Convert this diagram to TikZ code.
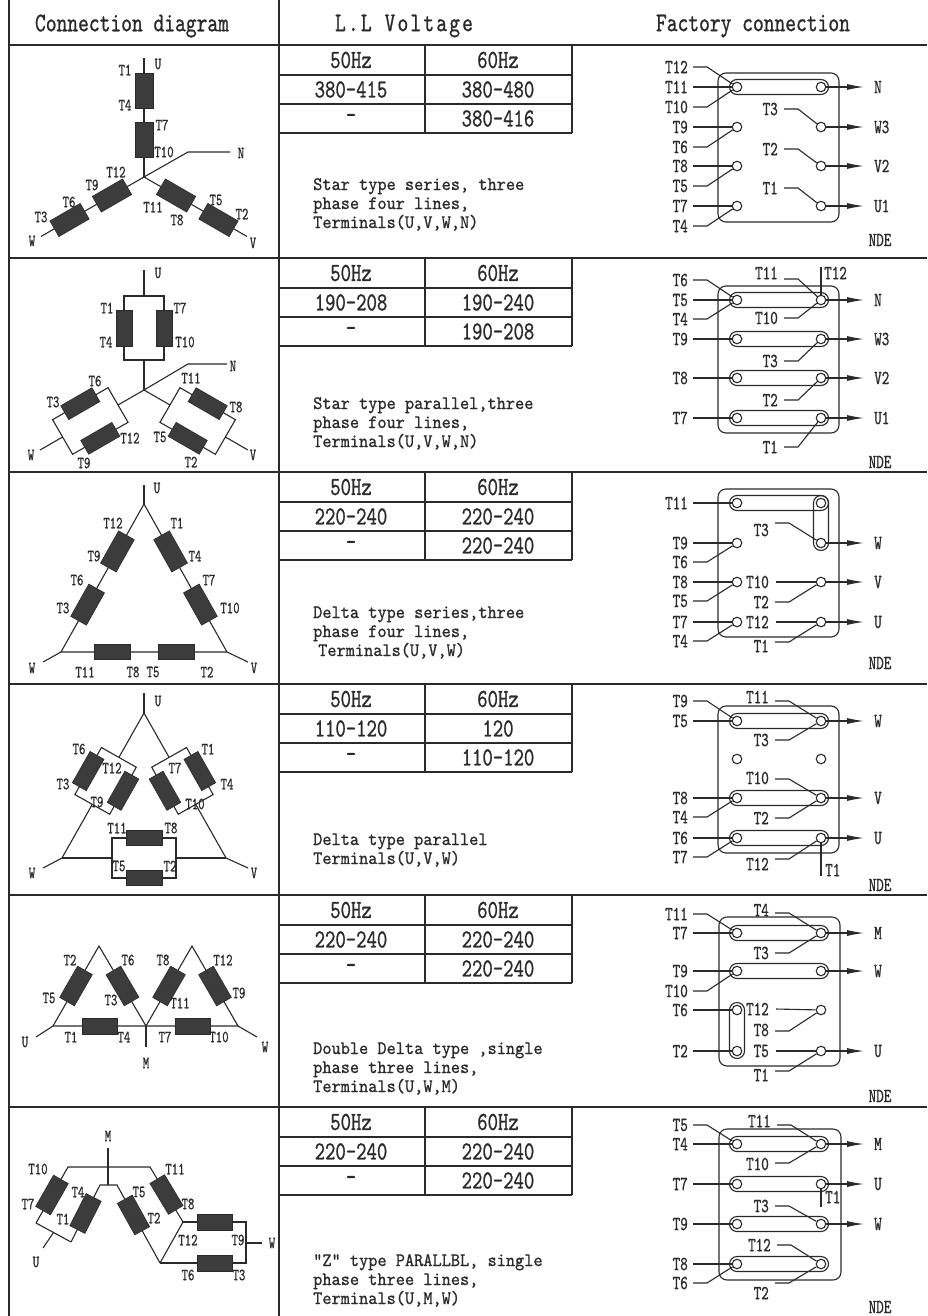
\documentclass[tikz,border=0pt]{standalone}
\usepackage{fontspec}
\usetikzlibrary{arrows.meta}
\newfontfamily\tfont{lmmono10-regular.otf}[FakeStretch=0.72,FakeBold=0.8]
\newfontfamily\tfontw{lmmono10-regular.otf}[FakeStretch=0.92,FakeBold=0.8]
\newfontfamily\tfonth{lmmono10-regular.otf}[FakeStretch=0.76,FakeBold=0.8]
\newfontfamily\tfonthl{lmmono10-regular.otf}[FakeStretch=0.76,FakeBold=0.8,LetterSpace=8]
\newcommand\hfont{\tfonth\fontsize{27}{27}\selectfont}
\newcommand\hlfont{\tfonthl\fontsize{27}{27}\selectfont}
\newcommand\sfontx{\tfonth\fontsize{26}{26}\selectfont}
\newcommand\descfont{\tfontw\fontsize{19}{19}\selectfont}
\newcommand\dlabfont{\tfont\fontsize{17}{17}\selectfont}
\newcommand\rlabfont{\tfont\fontsize{20}{20}\selectfont}
\definecolor{ink}{HTML}{2A2A2A}
\definecolor{coilc}{HTML}{3C3C3C}
\newcounter{lb}
\tikzset{
 tab/.style={draw=ink, line width=1.4pt},
 wire/.style={draw=ink, line width=1.1pt},
 coilA/.style={draw=ink, fill=coilc, line width=0.6pt, inner sep=0pt, minimum width=35pt, minimum height=18pt},
 coilB/.style={coilA, minimum width=36pt, minimum height=16pt},
 coilC/.style={coilA, minimum width=36pt, minimum height=15pt},
 coilD/.style={coilA, minimum width=37pt, minimum height=18pt},
 coilE/.style={coilA, minimum width=36pt, minimum height=17pt},
 dlab/.style={font=\dlabfont, text=ink, inner sep=0pt},
 rlab/.style={font=\rlabfont, text=ink, inner sep=0pt},
 term/.style={circle, draw=ink, fill=white, line width=1.1pt, minimum size=9.5pt, inner sep=0pt},
 lnk/.style={draw=ink, line width=1.1pt, rounded corners=7.5pt},
 bx/.style={draw=ink, line width=1.1pt, rounded corners=8pt},
 htxt/.style={font=\hfont, text=ink, inner sep=0pt},
 stxt/.style={font=\sfontx, text=ink, inner sep=0pt},
 dtxt/.style={font=\descfont, text=ink, inner sep=0pt, anchor=base west},
}
\newcommand\dl[3]{\stepcounter{lb}\node[dlab] (dl\arabic{lb}) at (#1,#2) {#3};}
\newcommand\dline[3]{\stepcounter{lb}\node[dtxt] (ds\arabic{lb}) at (#1,#2) {#3};}
\newcommand\subt[4]{%
 \node[stxt] (s50-#1) at (351,#1+15) {50Hz}; \node[stxt] (s60-#1) at (498,#1+15) {60Hz};
 \node[stxt] (sa-#1) at (351,#1+44.5) {#2}; \node[stxt] (sb-#1) at (498,#1+44.5) {#3};
 \node[stxt] (sc-#1) at (351,#1+73.5) {-}; \node[stxt] (sd-#1) at (498,#1+73.5) {#4};}
\newcommand\terms[2]{\node[term] (#1l) at (737,#2) {}; \node[term] (#1r) at (821,#2) {};}
\newcommand\hlink[1]{\draw[lnk] (729.5,#1-7.5) rectangle (828.5,#1+7.5);}
\newcommand\LS[3]{\stepcounter{lb}\node[rlab,anchor=east] (rl\arabic{lb}) at (688,#3) {#2}; \draw[wire] (693,#3) -- (#1);}
\newcommand\LA[3]{\stepcounter{lb}\node[rlab,anchor=east] (rl\arabic{lb}) at (688,#3) {#2}; \draw[wire] (693,#3) -- (707,#3) -- (#1);}
\newcommand\RS[4]{\stepcounter{lb}\node[rlab,anchor=east] (rl\arabic{lb}) at (#4,#3) {#2}; \draw[wire] (#4+7,#3) -- (#1);}
\newcommand\RA[5]{\stepcounter{lb}\node[rlab,anchor=east] (rl\arabic{lb}) at (#4,#3) {#2}; \draw[wire] (#4+6,#5) -- (#4+20,#5) -- (#1);}
\newcommand\AR[3]{\stepcounter{lb}\draw[wire,-{Latex[length=17pt,width=6pt]}] (#1) -- (864,#3); \node[rlab,anchor=west] (ar\arabic{lb}) at (874,#3) {#2};}
\newcommand\NDE[1]{\stepcounter{lb}\node[rlab] (nde\arabic{lb}) at (880,#1) {NDE};}
\begin{document}
\begin{tikzpicture}[x=1pt,y=-1pt]
\useasboundingbox (0,0) rectangle (927,1316);
\fill[white] (0,0) rectangle (927,1316);
% ---------- table ----------
\draw[tab] (9,0) -- (9,1316);
\draw[tab] (279,0) -- (279,1316);
\foreach \y in {45,258,472,684,895,1107} {
 \draw[tab] (9,\y) -- (927,\y);
 \draw[tab] (279,\y+30) -- (572,\y+30) (279,\y+59) -- (572,\y+59) (279,\y+88) -- (572,\y+88);
 \draw[tab] (425,\y) -- (425,\y+88) (572,\y) -- (572,\y+88);
}
\node[htxt] (h1) at (132,26) {Connection diagram};
\node[htxt, font=\hlfont] (h2) at (404,26) {L.L Voltage};
\node[htxt] (h3) at (753,26) {Factory connection};
% ---------- voltage tables ----------
\subt{45}{380-415}{380-480}{380-416}
\subt{258}{190-208}{190-240}{190-208}
\subt{472}{220-240}{220-240}{220-240}
\subt{684}{110-120}{120}{110-120}
\subt{895}{220-240}{220-240}{220-240}
\subt{1107}{220-240}{220-240}{220-240}
% ---------- descriptions ----------
\dline{313}{190}{Star type series, three}
\dline{313}{209}{phase four lines,}
\dline{313}{228}{Terminals(U,V,W,N)}
\dline{313}{409}{Star type parallel,three}
\dline{313}{428}{phase four lines,}
\dline{313}{447}{Terminals(U,V,W,N)}
\dline{313}{618}{Delta type series,three}
\dline{313}{637}{phase four lines,}
\dline{318}{656}{Terminals(U,V,W)}
\dline{313}{845}{Delta type parallel}
\dline{313}{864}{Terminals(U,V,W)}
\dline{313}{1054}{Double Delta type ,single}
\dline{313}{1073}{phase three lines,}
\dline{313}{1092}{Terminals(U,W,M)}
\dline{313}{1266}{“Z” type PARALLBL, single}
\dline{313}{1285}{phase three lines,}
\dline{313}{1304}{Terminals(U,M,W)}
% ---------- row 1: star series ----------
\coordinate (c1) at (144,177);
\begin{scope}[shift={(144,177)}]
 \foreach \a in {270,150,30} {
  \begin{scope}[rotate=-\a]
   \draw[wire] (0,0) -- (119,0);
   \node[coilA, transform shape] (k1a\a) at (37,0) {};
   \node[coilA, transform shape] (k1b\a) at (86,0) {};
  \end{scope}}
\end{scope}
\draw[wire] (c1) -- (188,152) -- (230,152);
\dl{158}{64}{U}\dl{125}{70}{T1}\dl{125}{105}{T4}\dl{162}{125}{T7}\dl{164}{152}{T10}
\dl{241}{153}{N}\dl{116}{172}{T12}\dl{92}{185}{T9}\dl{69}{202}{T6}\dl{41}{217}{T3}\dl{32}{241}{W}
\dl{153}{207}{T11}\dl{177}{220}{T8}\dl{216}{200}{T5}\dl{242}{214}{T2}\dl{253}{243}{V}
% ---------- row 2: star parallel ----------
\coordinate (c2) at (144,390);
\begin{scope}[shift={(144,390)}]
 \foreach \a in {270,150,30} {
  \begin{scope}[rotate=-\a]
   \draw[wire] (0,0) -- (30,0) (94,0) -- (120,0);
   \draw[wire] (30,-20) rectangle (94,20);
   \node[coilB, transform shape] (k2a\a) at (62,-20) {};
   \node[coilB, transform shape] (k2b\a) at (62,20) {};
  \end{scope}}
\end{scope}
\draw[wire] (c2) -- (188,364) -- (227,364);
\dl{158}{273}{U}\dl{107}{308}{T1}\dl{106}{342}{T4}\dl{180}{308}{T7}\dl{185}{342}{T10}
\dl{233}{366}{N}\dl{95}{381}{T6}\dl{53}{402}{T3}\dl{130}{438}{T12}\dl{84}{463}{T9}\dl{31}{455}{W}
\dl{191}{378}{T11}\dl{236}{407}{T8}\dl{160}{437}{T5}\dl{191}{462}{T2}\dl{253}{455}{V}
% ---------- row 3: delta series ----------
\draw[wire] (144,485) -- (144,504);
\draw[wire] (144,504) -- (61,652) -- (227,652) -- cycle;
\draw[wire] (61,652) -- (43,662) (227,652) -- (248,662);
\node[coilD, rotate=-119.3] (k3a) at (117.4,551.4) {};
\node[coilD, rotate=-119.3] (k3b) at (87.6,604.6) {};
\node[coilD, rotate=-60.7] (k3c) at (170.6,551.4) {};
\node[coilD, rotate=-60.7] (k3d) at (200.4,604.6) {};
\node[coilC] (k3e) at (112,652) {};
\node[coilC] (k3f) at (176,652) {};
\dl{157}{488}{U}\dl{113}{523}{T12}\dl{177}{523}{T1}\dl{94}{556}{T9}\dl{195}{556}{T4}
\dl{77}{580}{T6}\dl{209}{580}{T7}\dl{63}{608}{T3}\dl{230}{608}{T10}
\dl{32}{668}{W}\dl{85}{672}{T11}\dl{133}{672}{T8}\dl{153}{672}{T5}\dl{207}{672}{T2}\dl{254}{668}{V}
% ---------- row 4: delta parallel ----------
\draw[wire] (144,693) -- (144,713);
\foreach \a in {119.5,60.5} {
 \begin{scope}[shift={(144,713)}, rotate=-\a]
  \draw[wire] (0,0) -- (51,0) (105,0) -- (166.6,0);
  \draw[wire] (51,-20) rectangle (105,20);
  \node[coilB, transform shape] (k4a\a) at (78,-20) {};
  \node[coilB, transform shape] (k4b\a) at (78,20) {};
 \end{scope}}
\draw[wire] (62,858) -- (112,858) (176,858) -- (226,858);
\draw[wire] (112,838) rectangle (176,878);
\draw[wire] (62,858) -- (43,868) (226,858) -- (248,868);
\node[coilC] (k4c) at (144,838) {};
\node[coilC] (k4d) at (144,878) {};
\dl{158}{701}{U}\dl{79}{749}{T6}\dl{112}{768}{T12}\dl{63}{784}{T3}\dl{97}{802}{T9}
\dl{175}{768}{T7}\dl{208}{749}{T1}\dl{227}{784}{T4}\dl{195}{804}{T10}
\dl{117}{828}{T11}\dl{171}{828}{T8}\dl{119}{866}{T5}\dl{170}{866}{T2}\dl{32}{873}{W}\dl{254}{873}{V}
% ---------- row 5: double delta ----------
\draw[wire] (53,1026) -- (99,946) -- (146,1026) -- (192,946) -- (238,1026);
\draw[wire] (36,1037) -- (53,1026) -- (238,1026) -- (257,1037);
\draw[wire] (146,1026) -- (146,1047);
\node[coilE, rotate=-119.9] (k5a) at (76,986) {};
\node[coilE, rotate=-59.6] (k5b) at (122.5,986) {};
\node[coilE, rotate=-119.9] (k5c) at (169,986) {};
\node[coilE, rotate=-60] (k5d) at (215,986) {};
\node[coilB, minimum width=35pt] (k5e) at (99.5,1026) {};
\node[coilB, minimum width=35pt] (k5f) at (193,1026) {};
\dl{70}{960}{T2}\dl{49}{998}{T5}\dl{128}{960}{T6}\dl{111}{1000}{T3}
\dl{163}{960}{T8}\dl{180}{1003}{T11}\dl{223}{960}{T12}\dl{239}{993}{T9}
\dl{71}{1037}{T1}\dl{124}{1037}{T4}\dl{165}{1037}{T7}\dl{219}{1037}{T10}
\dl{25}{1042}{U}\dl{146}{1063}{M}\dl{265}{1047}{W}
% ---------- row 6: Z type ----------
\draw[wire] (108,1148) -- (108,1185);
\draw[wire] (36,1223) -- (68,1167) -- (150,1167) -- (183,1222);
\draw[wire] (71,1242) -- (100,1185) -- (117,1185) -- (160,1263);
\draw[wire] (36,1223) -- (71,1242);
\draw[wire] (53.5,1232.5) -- (43,1248);
\draw[wire] (160,1263) -- (183,1222);
\draw[wire] (183,1222) -- (246,1222) -- (246,1263) -- (160,1263);
\draw[wire] (246,1243) -- (262,1243);
\node[coilE, rotate=-119.7] (k6a) at (52,1195) {};
\node[coilE, rotate=-117] (k6b) at (85.5,1213.5) {};
\node[coilE, rotate=-59] (k6c) at (166.5,1194.5) {};
\node[coilE, rotate=-61.1] (k6d) at (133.5,1215) {};
\node[coilB, minimum width=35pt] (k6e) at (214.5,1222) {};
\node[coilB, minimum width=35pt] (k6f) at (214.5,1263) {};
\dl{108}{1136}{M}\dl{38}{1169}{T10}\dl{28}{1204}{T7}\dl{78}{1192}{T4}\dl{63}{1219}{T1}
\dl{175}{1169}{T11}\dl{188}{1204}{T8}\dl{139}{1192}{T5}\dl{154}{1218}{T2}
\dl{188}{1240}{T12}\dl{238}{1240}{T9}\dl{188}{1275}{T6}\dl{239}{1275}{T3}
\dl{36}{1262}{U}\dl{272}{1243}{W}
% ---------- factory connection 1 ----------
\draw[bx] (718,73) rectangle (839,222);
\hlink{87}
\terms{a1}{87}\terms{a2}{127}\terms{a3}{166}\terms{a4}{206}
\LA{a1l}{T12}{67}\LS{a1l}{T11}{87}\LA{a1l}{T10}{107}
\LS{a2l}{T9}{127}\LA{a2l}{T6}{147}
\LS{a3l}{T8}{166}\LA{a3l}{T5}{186}
\LS{a4l}{T7}{206}\LA{a4l}{T4}{226}
\RA{a2r}{T3}{109}{778}{109}\RA{a3r}{T2}{149}{778}{149}\RA{a4r}{T1}{188}{778}{188}
\AR{a1r}{N}{87}\AR{a2r}{W3}{127}\AR{a3r}{V2}{166}\AR{a4r}{U1}{206}
\NDE{240}
% ---------- factory connection 2 ----------
\draw[bx] (718,286) rectangle (839,433);
\hlink{300}\hlink{339}\hlink{378}\hlink{418}
\terms{b1}{300}\terms{b2}{339}\terms{b3}{378}\terms{b4}{418}
\LA{b1l}{T6}{280}\LS{b1l}{T5}{300}\LA{b1l}{T4}{319}
\LS{b2l}{T9}{339}\LS{b3l}{T8}{378}\LS{b4l}{T7}{418}
\RA{b1r}{T11}{273}{778}{279}\RA{b1r}{T10}{318}{778}{318}
\draw[wire] (b1r) -- (821,267);
\node[rlab,anchor=west] (b12) at (824,273) {T12};
\RA{b2r}{T3}{361}{778}{361}\RA{b3r}{T2}{400}{778}{400}\RA{b4r}{T1}{447}{778}{447}
\AR{b1r}{N}{300}\AR{b2r}{W3}{339}\AR{b3r}{V2}{378}\AR{b4r}{U1}{418}
\NDE{462}
% ---------- factory connection 3 ----------
\draw[bx] (718,489) rectangle (839,637);
\hlink{503}
\draw[lnk] (813.5,495.5) rectangle (828.5,550.5);
\terms{c1}{503}\terms{c2}{543}\terms{c3}{582}\terms{c4}{622}
\LS{c1l}{T11}{503}\LS{c2l}{T9}{543}\LA{c2l}{T6}{562}
\LS{c3l}{T8}{582}\LA{c3l}{T5}{601}\LS{c4l}{T7}{622}\LA{c4l}{T4}{641}
\RA{c2r}{T3}{530}{769}{523}
\RS{c3r}{T10}{582}{769}\RA{c3r}{T2}{602}{769}{602}
\RS{c4r}{T12}{622}{769}\RA{c4r}{T1}{646}{769}{642}
\AR{c2r}{W}{543}\AR{c3r}{V}{582}\AR{c4r}{U}{622}
\NDE{663}
% ---------- factory connection 4 ----------
\draw[bx] (718,706) rectangle (839,853);
\hlink{721}\hlink{798}\hlink{838}
\terms{d1}{721}\terms{d2}{759}\terms{d3}{798}\terms{d4}{838}
\LA{d1l}{T9}{701}\LS{d1l}{T5}{721}\LS{d3l}{T8}{798}\LA{d3l}{T4}{817}
\LS{d4l}{T6}{838}\LA{d4l}{T7}{857}
\RA{d1r}{T11}{697}{769}{701}\RA{d1r}{T3}{740}{769}{740}
\RA{d3r}{T10}{778}{769}{779}\RA{d3r}{T2}{818}{769}{818}
\RA{d4r}{T12}{864}{769}{859}
\draw[wire] (d4r) -- (821,876);
\node[rlab,anchor=west] (d1t) at (825,870) {T1};
\AR{d1r}{W}{721}\AR{d3r}{V}{798}\AR{d4r}{U}{838}
\NDE{885}
% ---------- factory connection 5 ----------
\draw[bx] (719,917) rectangle (840,1066);
\hlink{933}\hlink{971}
\draw[lnk] (729.5,1002.5) rectangle (744.5,1058.5);
\terms{e1}{933}\terms{e2}{971}\terms{e3}{1010}\terms{e4}{1051}
\LA{e1l}{T11}{914}\LS{e1l}{T7}{933}\LS{e2l}{T9}{971}\LA{e2l}{T10}{991}
\LS{e3l}{T6}{1010}\LS{e4l}{T2}{1051}
\RA{e1r}{T4}{910}{769}{913}\RA{e1r}{T3}{953}{769}{953}
\RS{e3r}{T12}{1009}{769}\RA{e3r}{T8}{1030}{769}{1031}
\RS{e4r}{T5}{1051}{769}\RA{e4r}{T1}{1075}{769}{1071}
\AR{e1r}{M}{933}\AR{e2r}{W}{971}\AR{e4r}{U}{1051}
\NDE{1096}
% ---------- factory connection 6 ----------
\draw[bx] (719,1129) rectangle (841,1280);
\hlink{1144}\hlink{1184}\hlink{1224}\hlink{1264}
\terms{f1}{1144}\terms{f2}{1184}\terms{f3}{1224}\terms{f4}{1264}
\LA{f1l}{T5}{1125}\LS{f1l}{T4}{1144}\LS{f2l}{T7}{1184}\LS{f3l}{T9}{1224}
\LS{f4l}{T8}{1264}\LA{f4l}{T6}{1283}
\RA{f1r}{T11}{1121}{771}{1125}\RA{f1r}{T10}{1164}{769}{1163}
\RA{f3r}{T3}{1206}{769}{1206}\RA{f4r}{T12}{1245}{771}{1245}\RA{f4r}{T2}{1293}{769}{1283}
\draw[wire] (f2r) -- (821,1207);
\node[rlab,anchor=west] (f1t) at (825,1197) {T1};
\AR{f1r}{M}{1144}\AR{f2r}{U}{1184}\AR{f3r}{W}{1224}
\NDE{1307}
\end{tikzpicture}
\end{document}
